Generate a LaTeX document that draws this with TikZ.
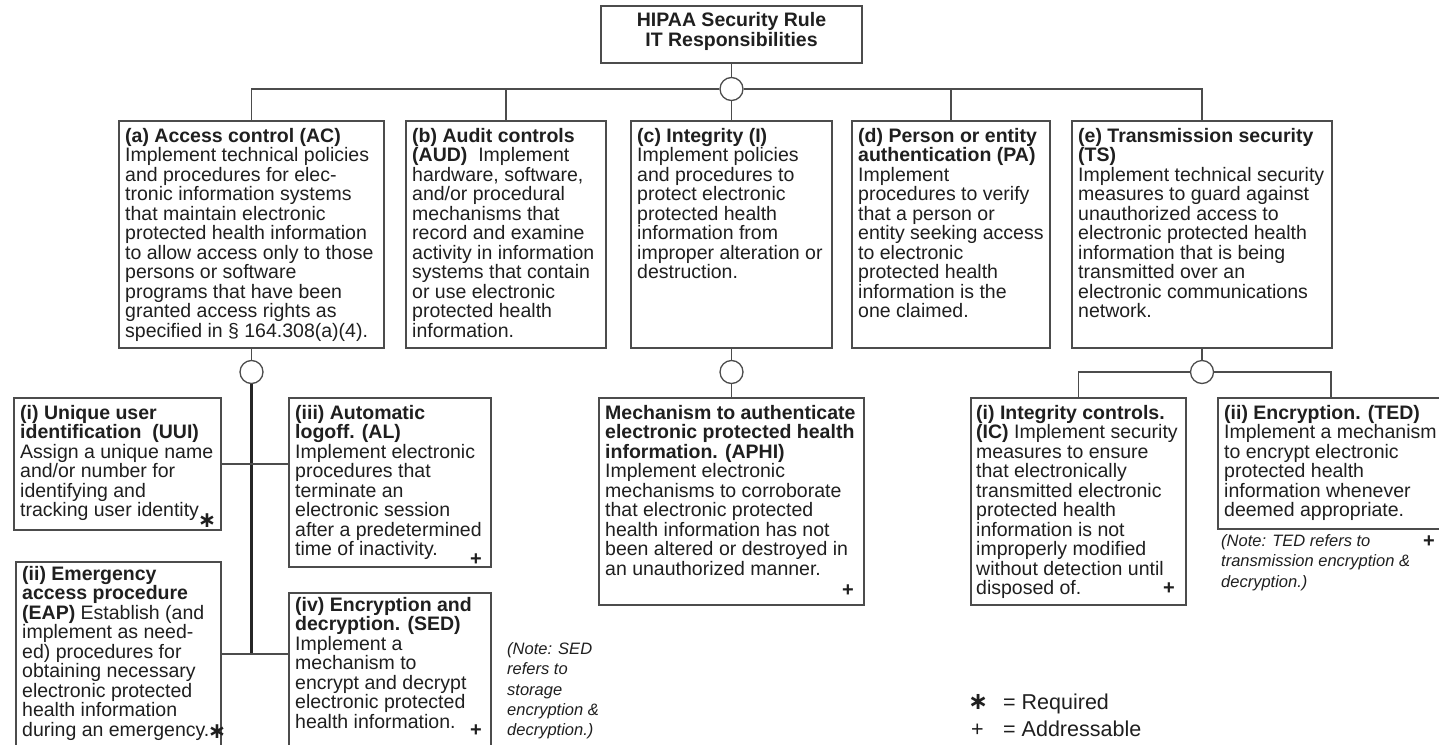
\documentclass[tikz,border=0pt]{standalone}
\usepackage{fontspec}
\setmainfont{Liberation Sans}
\newfontfamily\symfont{DejaVu Sans}
\definecolor{txtc}{gray}{0.12}
\definecolor{linec}{gray}{0.3}
\newcommand\firstln{\rule{0pt}{15pt}}
\newcommand\noteln{\rule{0pt}{13pt}}
\begin{document}
\begin{tikzpicture}[x=1pt,y=-1pt,
 box/.style={draw=linec,line width=1.5pt,anchor=north west,inner sep=0pt,outer sep=0pt},
 txt/.style={anchor=north west,inner sep=0pt,align=left,text=txtc,font=\fontsize{19.5}{19.5}\selectfont},
 ttl/.style={anchor=north,inner sep=0pt,align=center,text=txtc,font=\fontsize{19.5}{20}\selectfont\bfseries},
 note/.style={anchor=north west,inner sep=0pt,align=left,text=txtc,font=\fontsize{16.5}{20.4}\selectfont\itshape},
 conn/.style={draw=linec,line width=1.3pt},
 trunk/.style={draw=black!85,line width=2.6pt},
 hub/.style={circle,draw=linec,line width=1.3pt,fill=white,minimum size=23pt,inner sep=0pt},
 plusm/.style={text=txtc,inner sep=0pt,font=\fontsize{20}{20}\selectfont\bfseries},
 starm/.style={text=txtc,inner sep=0pt,anchor=base,font=\symfont\fontsize{22}{22}\selectfont\bfseries},
 leg/.style={text=txtc,inner sep=0pt,anchor=north west,align=left,font=\fontsize{21.5}{27}\selectfont}]
\path[use as bounding box,fill=white] (0,0) rectangle (1439,744);

% boxes
\node[box,minimum width=261pt,minimum height=57pt] (title) at (601,6) {};
\node[box,minimum width=265pt,minimum height=227pt] (ac) at (119,121) {};
\node[box,minimum width=200pt,minimum height=227pt] (aud) at (406,121) {};
\node[box,minimum width=201pt,minimum height=227pt] (int) at (631,121) {};
\node[box,minimum width=198pt,minimum height=227pt] (pa) at (852,121) {};
\node[box,minimum width=260pt,minimum height=227pt] (ts) at (1072,121) {};
\node[box,minimum width=207pt,minimum height=132pt] (uui) at (14,398) {};
\node[box,minimum width=202pt,minimum height=169pt] (al) at (289,398) {};
\node[box,minimum width=205pt,minimum height=190pt] (eap) at (16,562) {};
\node[box,minimum width=202pt,minimum height=159pt] (sed) at (289,593) {};
\node[box,minimum width=265pt,minimum height=207pt] (aphi) at (599,398) {};
\node[box,minimum width=215pt,minimum height=207pt] (ic) at (971,398) {};
\node[box,minimum width=226pt,minimum height=131pt] (ted) at (1218,398) {};

% hubs
\node[hub] (hub0) at (731.5,89) {};
\node[hub] (hub1) at (251.5,372) {};
\node[hub] (hub2) at (731.5,372) {};
\node[hub] (hub3) at (1202,372) {};
\coordinate (j2) at (251.5,654);

% connectors
\draw[conn] (title.south) -- (hub0.north);
\draw[conn] (hub0.west) -| (ac.north);
\draw[conn] (hub0.west) -| (aud.north);
\draw[conn] (hub0.south) -- (int.north);
\draw[conn] (hub0.east) -| (pa.north);
\draw[conn] (hub0.east) -| (ts.north);
\draw[conn] (ac.south) -- (hub1.north);
\draw[trunk] (hub1.south) -- (j2);
\draw[conn] (uui.east) -- (uui.east -| al.west);
\draw[conn] (eap.east |- j2) -- (sed.west |- j2);
\draw[conn] (int.south) -- (hub2.north);
\draw[conn] (hub2.south) -- (aphi.north);
\draw[conn] (ts.south) -- (hub3.north);
\draw[conn] (hub3.west) -| (ic.north);
\draw[conn] (hub3.east) -| (ted.north);

% texts
\node[ttl] (title-t) at (731.5,11) {\firstln HIPAA Security Rule\\IT Responsibilities};
\node[txt] (ac-t) at (125,127) {\firstln\textbf{(a) Access control (AC)}\\Implement technical policies\\and procedures for elec-\\tronic information systems\\that maintain electronic\\protected health information\\to allow access only to those\\persons or software\\programs that have been\\granted access rights as\\specified in § 164.308(a)(4).};
\node[txt] (aud-t) at (412,127) {\firstln\textbf{(b) Audit controls}\\\textbf{(AUD)}\ \ Implement\\hardware, software,\\and/or procedural\\mechanisms that\\record and examine\\activity in information\\systems that contain\\or use electronic\\protected health\\information.};
\node[txt] (int-t) at (637,127) {\firstln\textbf{(c) Integrity (I)}\\Implement policies\\and procedures to\\protect electronic\\protected health\\information from\\improper alteration or\\destruction.};
\node[txt] (pa-t) at (858,127) {\firstln\textbf{(d) Person or entity}\\\textbf{authentication (PA)}\\Implement\\procedures to verify\\that a person or\\entity seeking access\\to electronic\\protected health\\information is the\\one claimed.};
\node[txt] (ts-t) at (1078,127) {\firstln\textbf{(e) Transmission security}\\\textbf{(TS)}\\Implement technical security\\measures to guard against\\unauthorized access to\\electronic protected health\\information that is being\\transmitted over an\\electronic communications\\network.};
\node[txt] (uui-t) at (20,404) {\firstln\textbf{(i) Unique user}\\\textbf{identification\ \ (UUI)}\\Assign a unique name\\and/or number for\\identifying and\\tracking user identity};
\node[txt] (al-t) at (295,404) {\firstln\textbf{(iii) Automatic}\\\textbf{logoff. (AL)}\\Implement electronic\\procedures that\\terminate an\\electronic session\\after a predetermined\\time of inactivity.};
\node[txt] (eap-t) at (22,565) {\firstln\textbf{(ii) Emergency}\\\textbf{access procedure}\\\textbf{(EAP)} Establish (and\\implement as need-\\ed) procedures for\\obtaining necessary\\electronic protected\\health information\\during an emergency.};
\node[txt] (sed-t) at (295,596) {\firstln\textbf{(iv) Encryption and}\\\textbf{decryption. (SED)}\\Implement a\\mechanism to\\encrypt and decrypt\\electronic protected\\health information.};
\node[txt] (aphi-t) at (605,404) {\firstln\textbf{Mechanism to authenticate}\\\textbf{electronic protected health}\\\textbf{information. (APHI)}\\Implement electronic\\mechanisms to corroborate\\that electronic protected\\health information has not\\been altered or destroyed in\\an unauthorized manner.};
\node[txt] (ic-t) at (976,404) {\firstln\textbf{(i) Integrity controls.}\\\textbf{(IC)} Implement security\\measures to ensure\\that electronically\\transmitted electronic\\protected health\\information is not\\improperly modified\\without detection until\\disposed of.};
\node[txt] (ted-t) at (1224,404) {\firstln\textbf{(ii) Encryption. (TED)}\\Implement a mechanism\\to encrypt electronic\\protected health\\information whenever\\deemed appropriate.};

% notes
\node[note] (sed-n) at (507,641) {\noteln(Note: SED\\refers to\\storage\\encryption \&\\decryption.)};
\node[note] (ted-n) at (1221,533) {\noteln(Note: TED refers to\\transmission encryption \&\\decryption.)};

% markers
\node[starm] (uui-m) at (207,527) {∗};
\node[starm] (eap-m) at (217,738.5) {∗};
\node[plusm] (al-m) at (476,560) {+};
\node[plusm] (sed-m) at (476,731) {+};
\node[plusm] (aphi-m) at (848,591) {+};
\node[plusm] (ic-m) at (1169,589) {+};
\node[plusm] (ted-m) at (1429,542) {+};

% legend
\node[leg] (legend) at (968,692) {\rule{0pt}{17pt}\makebox[35pt][l]{{\symfont\fontsize{24}{24}\selectfont\bfseries ∗}}= Required\\\makebox[35pt][l]{\hspace{3pt}+}= Addressable};
\end{tikzpicture}
\end{document}
